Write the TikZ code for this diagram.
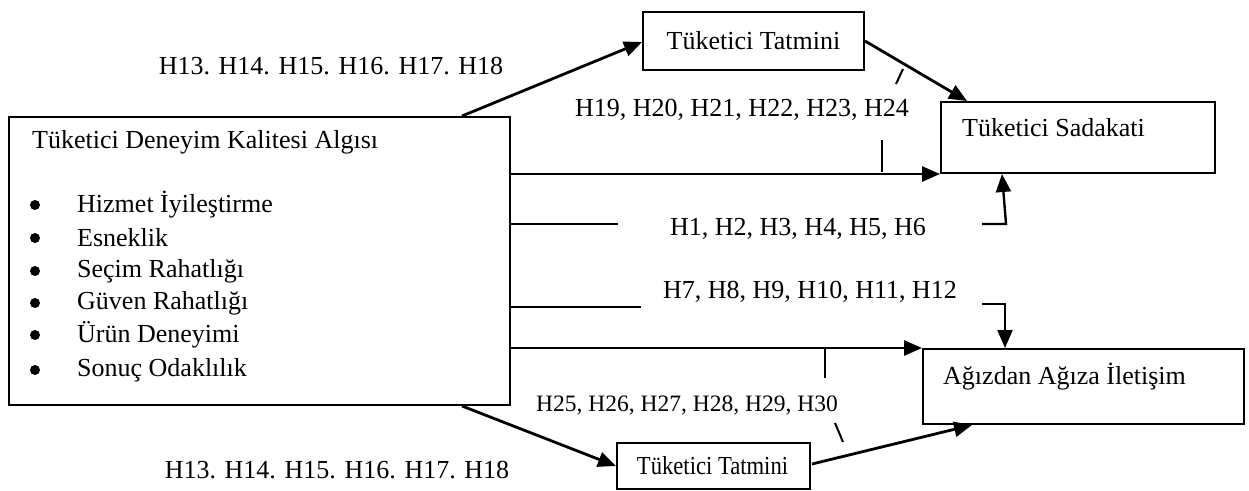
\documentclass[tikz,border=0pt]{standalone}
\usepackage{fontspec}
\setmainfont{Liberation Serif}
\usetikzlibrary{arrows.meta,calc}
\begin{document}
\begin{tikzpicture}[x=1pt,y=-1pt,
  box/.style={draw,line width=2pt,rectangle,anchor=north west,inner sep=0pt},
  txt/.style={inner sep=0pt,font=\fontsize{26}{30}\selectfont},
  stxt/.style={inner sep=0pt,font=\fontsize{23.5}{28}\selectfont},
  bul/.style={circle,fill,inner sep=0pt,minimum size=10pt},
  arr/.style={line width=2.8pt,-{Triangle[length=18pt,width=15pt]}},
  ln/.style={line width=2.2pt},
  tk/.style={line width=2pt}]
\useasboundingbox (0,0) rectangle (1249,490);
% boxes
\node[box,minimum width=501pt,minimum height=288pt] (main) at (8,116) {};
\node[box,minimum width=221pt,minimum height=58pt] (t1) at (642,11) {};
\node[box,minimum width=274pt,minimum height=71pt] (s) at (940,101) {};
\node[box,minimum width=321pt,minimum height=75pt] (a) at (922,348) {};
\node[box,minimum width=193pt,minimum height=46pt] (t2) at (616,442) {};
% box texts
\node[txt] (t1l) at (t1.center) {Tüketici Tatmini};
\node[txt] (t2l) at ($(t2.center)+(-1,0)$) {\scalebox{0.87}[1]{Tüketici Tatmini}};
\node[txt,anchor=west] (sl) at (962,128) {Tüketici Sadakati};
\node[txt,anchor=west] (al) at (943,377) {Ağızdan Ağıza İletişim};
\node[txt,anchor=west] (mt) at (32,142) {Tüketici Deneyim Kalitesi Algısı};
\foreach \y/\t [count=\i] in {205/Hizmet İyileştirme,238/Esneklik,271/Seçim Rahatlığı,303/Güven Rahatlığı,335/Ürün Deneyimi,370/Sonuç Odaklılık}{
  \node[bul] (b\i) at (35,\y) {};
  \node[txt,anchor=west] (m\i) at (77,\y) {\t};
}
% labels
\node[txt] (h13a) at (331,66) {H13. H14. H15. H16. H17. H18};
\node[txt] (h19) at (742,110) {H19, H20, H21, H22, H23, H24};
\node[txt] (h1) at (798,229) {H1, H2, H3, H4, H5, H6};
\node[txt] (h7) at (810,292) {H7, H8, H9, H10, H11, H12};
\node[stxt] (h25) at (687,405) {H25, H26, H27, H28, H29, H30};
\node[txt] (h13b) at (337,470) {H13. H14. H15. H16. H17. H18};
% connectors
\draw[arr] ($(main.north west)+(454,0)$) -- (t1.west |- 0,42);
\draw[arr] (t1.east) -- ($(s.north west)+(27,0)$);
\draw[arr] (s.south west -| main.east) -- (s.south west);
\draw[tk] (882,140) -- (882,172);
\draw[tk] (903,69) -- (896,84);
\draw[ln] (main.east |- 0,224) -- (618,224);
\draw[arr,line width=2.4pt] (982,224) -- (1006,224) -- ($(s.south west)+(62,0)$);
\draw[ln] (main.east |- 0,307) -- (641,307);
\draw[arr,line width=2.4pt] (982,304) -- (1005,304) -- ($(a.north west)+(83,0)$);
\draw[arr] (a.north west -| main.east) -- (a.north west);
\draw[tk] (825,348) -- (825,378);
\draw[arr] ($(main.south west)+(454,0)$) -- (t2.west |- 0,466);
\draw[arr] ($(t2.east)+(1,-2)$) -- ($(a.south west)+(50,0)$);
\draw[tk] (835,423) -- (843,442);
\end{tikzpicture}
\end{document}
